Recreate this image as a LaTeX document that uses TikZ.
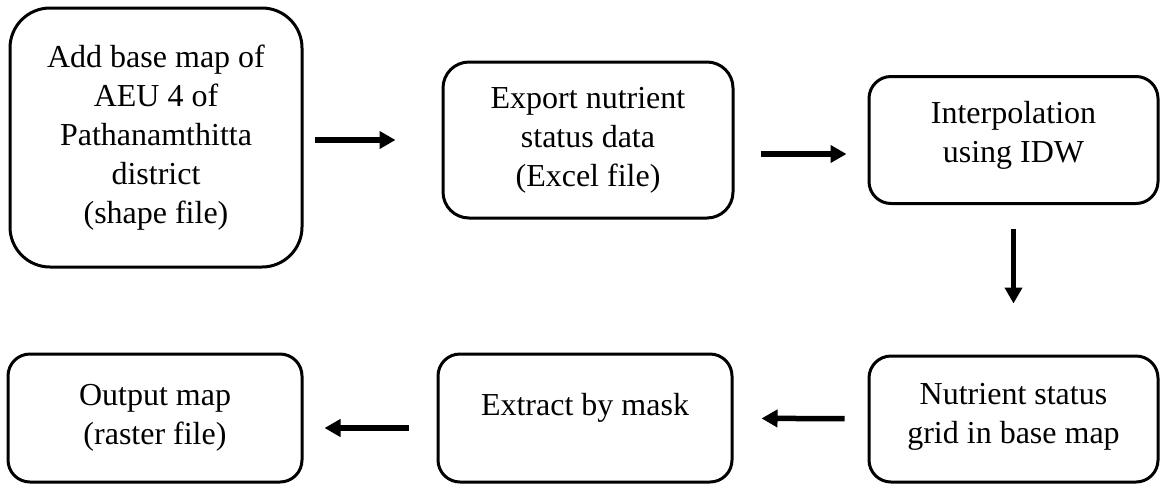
\documentclass[tikz,border=0pt]{standalone}
\usepackage{fontspec}
\setmainfont{Liberation Serif}
\usetikzlibrary{arrows.meta}
\newcommand{\liftup}[2]{\raisebox{#1}[\height][\depth]{\begin{tabular}{@{}c@{}}#2\end{tabular}}}

\begin{document}
\begin{tikzpicture}[x=1pt,y=-1pt,
  box/.style={draw,line width=3pt,rounded corners=22pt,align=center,
    font=\fontsize{32}{39}\selectfont},
  flow/.style={line width=5.5pt,-{Triangle[length=16pt,width=17pt]}}]
  \useasboundingbox (0,0) rectangle (1161,483);
  % fila de arriba
  \node[box,rounded corners=40pt,minimum width=292pt,minimum height=259pt] (basemap) at (156,137.5)
    {Add base map of\\AEU 4 of\\Pathanamthitta\\district\\(shape file)};
  \node[box,rounded corners=26pt,minimum width=290pt,minimum height=156pt] (export) at (588,140)
    {Export nutrient\\status data\\(Excel file)};
  \node[box,minimum width=289pt,minimum height=127pt] (idw) at (1013.5,140)
    {\liftup{5pt}{Interpolation\\using IDW}};
  % fila de abajo
  \node[box,minimum width=289pt,minimum height=126pt] (grid) at (1013.5,419)
    {\liftup{3pt}{Nutrient status\\grid in base map}};
  \node[box,minimum width=294pt,minimum height=128pt] (mask) at (585,418)
    {\liftup{10pt}{Extract by mask}};
  \node[box,minimum width=294pt,minimum height=128pt] (output) at (155,418)
    {Output map\\(raster file)};
  % flechas
  \draw[flow,shorten <=11pt,shorten >=46pt] (basemap.east |- export) -- (export.west);
  \draw[flow,shorten <=26pt,shorten >=21pt] ([yshift=-14pt]export.east) -- ([yshift=-14pt]idw.west);
  \draw[flow,shorten <=24pt,shorten >=51pt] (idw) -- (grid);
  \draw[flow,shorten <=23pt,shorten >=28pt] (grid) -- (mask);
  \draw[flow,shorten <=28pt,shorten >=21pt] ([yshift=-10pt]mask.west) -- ([yshift=-10pt]output.east);
\end{tikzpicture}
\end{document}
